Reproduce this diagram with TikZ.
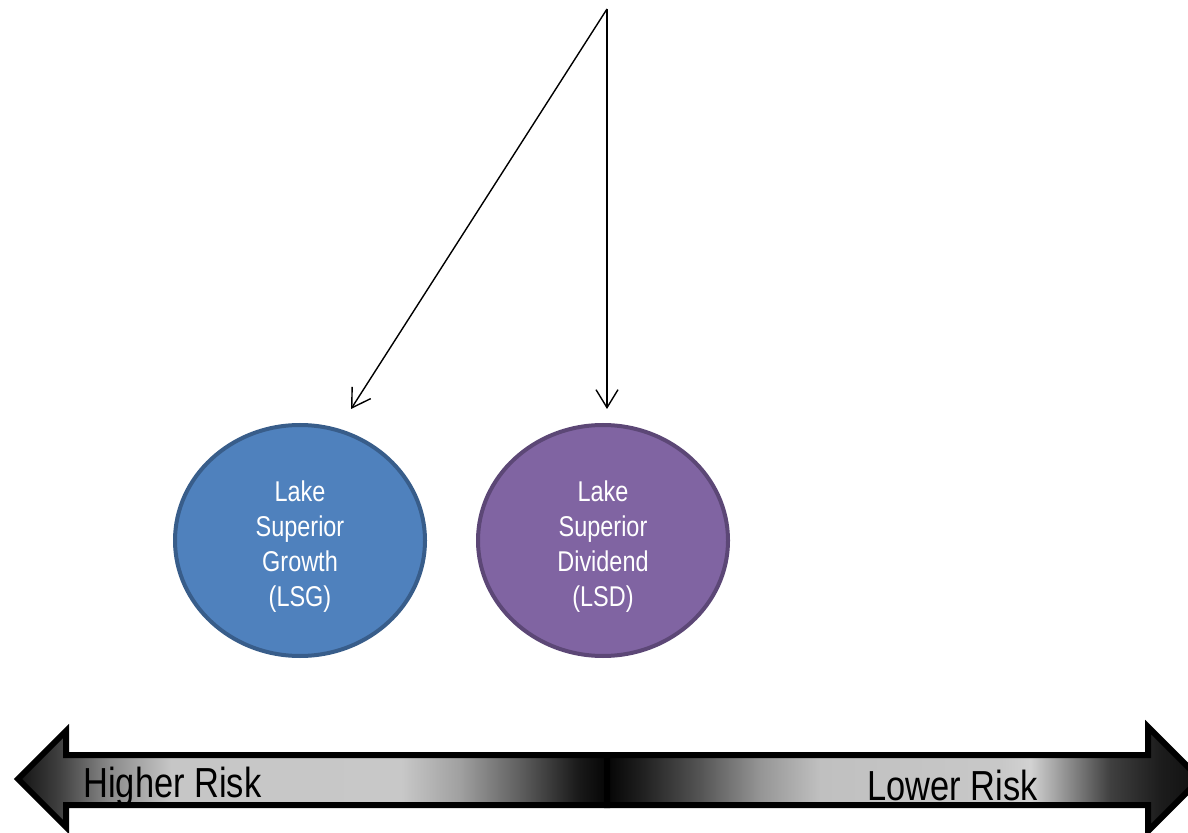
\documentclass[tikz,border=0pt]{standalone}
\usepackage{fontspec}
\setmainfont{Liberation Sans}[FakeStretch=0.82]
\usetikzlibrary{shapes.geometric,arrows.meta}
\definecolor{lsgfill}{HTML}{4F81BD}
\definecolor{lsgline}{HTML}{385D8A}
\definecolor{lsdfill}{HTML}{8064A2}
\definecolor{lsdline}{HTML}{5C4776}
\definecolor{ga}{HTML}{121212}
\definecolor{gb}{HTML}{404040}
\definecolor{gc}{HTML}{8A8A8A}
\definecolor{gd}{HTML}{C6C6C6}
\definecolor{ge}{HTML}{C8C8C8}
\definecolor{gf}{HTML}{A0A0A0}
\definecolor{gg}{HTML}{606060}
\definecolor{gh}{HTML}{1A1A1A}
\definecolor{gi}{HTML}{050505}
\definecolor{ra}{HTML}{050505}
\definecolor{rb}{HTML}{1E1E1E}
\definecolor{rc}{HTML}{555555}
\definecolor{rd}{HTML}{959595}
\definecolor{re}{HTML}{C0C0C0}
\definecolor{rf}{HTML}{C8C8C8}
\definecolor{rg}{HTML}{D2D2D2}
\definecolor{rh}{HTML}{8A8A8A}
\definecolor{ri}{HTML}{404040}
\definecolor{rj}{HTML}{1C1C1C}
\definecolor{rk}{HTML}{101010}
\pgfdeclarehorizontalshading{leftarrowshade}{100bp}{color(0bp)=(ga); color(25bp)=(ga); color(28.5bp)=(gb); color(32.8bp)=(gc); color(38bp)=(gd); color(57.5bp)=(ge); color(62.5bp)=(gf); color(67.5bp)=(gg); color(72.5bp)=(gh); color(75bp)=(gi); color(100bp)=(gi)}
\pgfdeclarehorizontalshading{rightarrowshade}{100bp}{color(0bp)=(ra); color(25bp)=(ra); color(27.8bp)=(rb); color(32.9bp)=(rc); color(37.9bp)=(rd); color(43bp)=(re); color(58.2bp)=(rf); color(60.7bp)=(rg); color(64bp)=(rh); color(67.4bp)=(ri); color(71.7bp)=(rj); color(75bp)=(rk); color(100bp)=(rk)}
\tikzset{
  fund/.style={ellipse, minimum width=125pt, minimum height=115.5pt, inner sep=0pt, line width=2pt},
  fundtext/.style={inner sep=0pt, text=white, align=center, font=\fontsize{14.3}{17.5}\selectfont},
  conn/.style={line width=0.7pt, -{Straight Barb[length=9pt,width=11pt,line width=0.7pt]}},
  riskarrow/.style={draw=black, line width=3pt, line join=miter},
  risklabel/.style={anchor=base west, inner sep=0pt, font=\fontsize{21}{25}\selectfont}
}
\begin{document}
\begin{tikzpicture}[x=0.5pt,y=-0.5pt]
\clip (0,0) rectangle (1188,833);
\fill[white] (0,0) rectangle (1188,833);
% bottom double arrow
\shadedraw[riskarrow, shading=leftarrowshade] (18,779) -- (66,731) -- (66,755) -- (607,755) -- (607,805) -- (66,805) -- (66,827) -- cycle;
\shadedraw[riskarrow, shading=rightarrowshade] (1200,779) -- (1148,727) -- (1148,755) -- (607,755) -- (607,805) -- (1148,805) -- (1148,831) -- cycle;
\node[risklabel] (higher) at (83,797) {Higher Risk};
\node[risklabel] (lower) at (867,800) {Lower Risk};
% circles
\node[fund, fill=lsgfill, draw=lsgline] (lsg) at (300,540.5) {};
\node[fund, fill=lsdfill, draw=lsdline] (lsd) at (603,540.5) {};
\node[fundtext] (lsgtext) at ([yshift=-3pt]lsg.center) {Lake\\Superior\\Growth\\(LSG)};
\node[fundtext] (lsdtext) at ([yshift=-3pt]lsd.center) {Lake\\Superior\\Dividend\\(LSD)};
% connectors
\coordinate (top) at (607,9);
\coordinate (endg) at (351,409);
\coordinate (endd) at (607,409);
\draw[conn] (top) -- (endg);
\draw[conn] (top) -- (endd);
\end{tikzpicture}
\end{document}
